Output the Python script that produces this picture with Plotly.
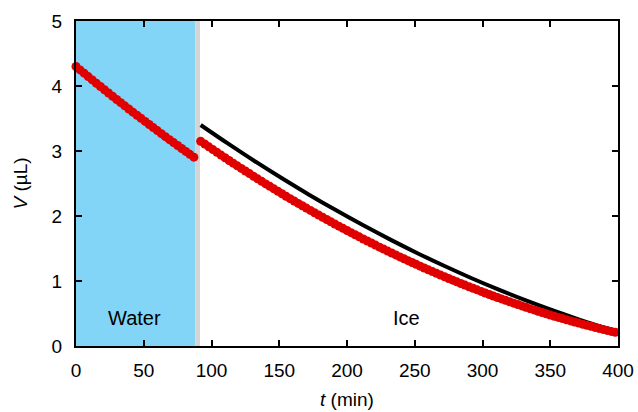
import plotly.graph_objects as go

# Water phase (red points)
t_water = [0, 3, 6, 9, 12, 15, 18, 21, 24, 27, 30, 33, 36, 39, 42, 45, 48, 51, 54, 57,
           60, 63, 66, 69, 72, 75, 78, 81, 84, 87]
v_water = [4.300, 4.248, 4.197, 4.145, 4.094, 4.043, 3.993, 3.942, 3.892, 3.843,
           3.793, 3.744, 3.695, 3.647, 3.598, 3.550, 3.502, 3.455, 3.407, 3.360,
           3.314, 3.267, 3.221, 3.175, 3.129, 3.084, 3.039, 2.994, 2.949, 2.905]

# Ice phase (red points)
t_ice = list(range(92, 399, 3))
v_ice = [3.150, 3.107, 3.064, 3.022, 2.979, 2.937, 2.896, 2.854, 2.813, 2.772,
         2.732, 2.692, 2.652, 2.612, 2.572, 2.533, 2.494, 2.456, 2.418, 2.380,
         2.342, 2.304, 2.267, 2.230, 2.194, 2.158, 2.122, 2.086, 2.050, 2.015,
         1.980, 1.946, 1.911, 1.877, 1.844, 1.810, 1.777, 1.744, 1.711, 1.679,
         1.647, 1.615, 1.584, 1.552, 1.521, 1.491, 1.460, 1.430, 1.401, 1.371,
         1.342, 1.313, 1.284, 1.256, 1.228, 1.200, 1.172, 1.145, 1.118, 1.091,
         1.065, 1.039, 1.013, 0.987, 0.962, 0.937, 0.912, 0.888, 0.864, 0.840,
         0.816, 0.793, 0.770, 0.747, 0.725, 0.703, 0.681, 0.659, 0.638, 0.617,
         0.596, 0.575, 0.555, 0.535, 0.516, 0.496, 0.477, 0.458, 0.440, 0.422,
         0.404, 0.386, 0.369, 0.352, 0.335, 0.318, 0.302, 0.286, 0.271, 0.255,
         0.240, 0.225, 0.211]

# Model curve (black line)
t_model = [92, 112, 132, 152, 172, 192, 212, 232, 252, 272, 292, 312, 332, 352, 372, 392, 400]
v_model = [3.400, 3.116, 2.842, 2.580, 2.328, 2.087, 1.856, 1.637, 1.428, 1.230,
           1.043, 0.867, 0.701, 0.547, 0.403, 0.270, 0.220]

# Phase boundaries
water_end = 88
gap_end = 91.5

x_ticks = [0, 50, 100, 150, 200, 250, 300, 350, 400]
y_ticks = [0, 1, 2, 3, 4, 5]

FONT = "Liberation Sans, Arial, Helvetica, sans-serif"
RED = "#e00000"

fig = go.Figure()

fig.add_shape(type="rect", xref="x", yref="y", x0=0, x1=water_end, y0=0, y1=5,
              fillcolor="#82d5f6", line=dict(width=0), layer="below")
fig.add_shape(type="rect", xref="x", yref="y", x0=water_end, x1=gap_end, y0=0, y1=5,
              fillcolor="#d4d4d4", line=dict(width=0), layer="below")

fig.add_trace(go.Scatter(x=t_model, y=v_model, mode="lines",
                         line=dict(color="black", width=4, shape="spline"),
                         showlegend=False))
fig.add_trace(go.Scatter(x=t_water, y=v_water, mode="markers",
                         marker=dict(color=RED, size=9, line=dict(width=0)),
                         showlegend=False, cliponaxis=False))
fig.add_trace(go.Scatter(x=t_ice, y=v_ice, mode="markers",
                         marker=dict(color=RED, size=9, line=dict(width=0)),
                         showlegend=False, cliponaxis=False))

fig.add_annotation(x=43.5, y=0.43, text="Water", showarrow=False,
                   font=dict(family=FONT, size=20, color="black"))
fig.add_annotation(x=244, y=0.43, text="Ice", showarrow=False,
                   font=dict(family=FONT, size=20, color="black"))

# Axis titles
fig.add_annotation(xref="paper", yref="paper", x=0.5, y=-0.166, text="<i>t</i> (min)",
                   xanchor="center", yanchor="middle",
                   showarrow=False, font=dict(family=FONT, size=19, color="black"))
fig.add_annotation(xref="paper", yref="paper", x=-0.1015, y=0.5, text="<i>V</i> (µL)",
                   xanchor="center", yanchor="middle",
                   textangle=-90, showarrow=False,
                   font=dict(family=FONT, size=19, color="black"))

axis_common = dict(showline=True, linecolor="black", linewidth=2, mirror="allticks",
                   ticks="inside", ticklen=6, tickwidth=2, tickcolor="black",
                   showgrid=False, zeroline=False, automargin=False,
                   tickfont=dict(family=FONT, size=19, color="black"))

fig.update_xaxes(range=[0, 400], tickvals=x_ticks, ticktext=[str(v) for v in x_ticks],
                 ticklabelstandoff=6, **axis_common)
fig.update_yaxes(range=[0, 5], tickvals=y_ticks, ticktext=[str(v) for v in y_ticks],
                 ticklabelstandoff=8, **axis_common)

fig.update_layout(width=638, height=412, margin=dict(l=76, r=20, t=21, b=66),
                  plot_bgcolor="white", paper_bgcolor="white",
                  font=dict(family=FONT, size=19, color="black"))

fig.write_html("out.html", config={"displayModeBar": False},
               post_script="document.body.style.margin='0px';document.body.style.overflow='hidden';")
